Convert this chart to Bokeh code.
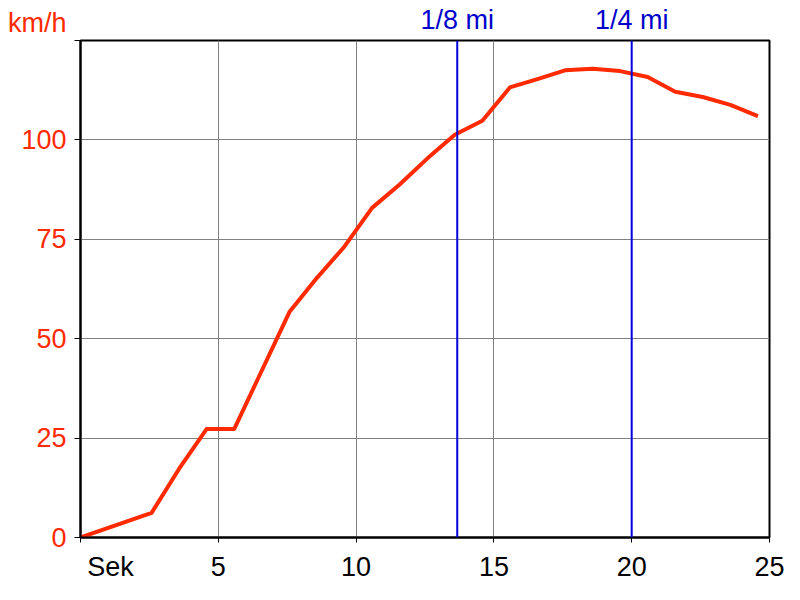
from bokeh.plotting import figure
from bokeh.models import Range1d, FixedTicker, Span, LinearAxis
from bokeh.embed import file_html
from bokeh.resources import INLINE

# Data
seconds = [0, 2.58, 3.58, 4.58, 5.58, 6.58, 7.58, 8.58, 9.58, 10.58, 11.58, 12.58,
           13.58, 14.58, 15.58, 16.58, 17.58, 18.58, 19.58, 20.58, 21.58, 22.58, 23.58, 24.58]
speed_kmh = [0, 6.2, 17.3, 27.3, 27.3, 42.0, 56.7, 65.3, 73.2, 82.9, 88.8, 95.3,
             101.3, 104.8, 113.2, 115.3, 117.5, 117.9, 117.3, 115.8, 112.1, 110.8, 108.8, 106.0]
mile_marks = [13.67, 20.0]
mile_labels = ["1/8 mi", "1/4 mi"]
x_ticks = [0, 5, 10, 15, 20, 25]
y_ticks = [0, 25, 50, 75, 100, 125]
x_unit = "Sek"
y_unit = "km/h"

FONT = "Liberation Sans"
FS = "27px"
RED = "#FF2A00"
BLUE = "#0000CC"
NBSP = "\u00a0"

p = figure(width=784, height=584, x_range=Range1d(0, 25), y_range=Range1d(0, 125),
           output_backend="svg", toolbar_location=None,
           min_border_left=80, min_border_right=15, min_border_top=40, min_border_bottom=44)

p.background_fill_color = "white"
p.border_fill_color = "white"
p.outline_line_color = "black"
p.outline_line_width = 2

# Axes
p.xaxis.ticker = FixedTicker(ticks=x_ticks)
p.xaxis.major_label_overrides = {0: NBSP * 8 + x_unit}
p.yaxis.ticker = FixedTicker(ticks=y_ticks)
p.yaxis.major_label_overrides = {125: y_unit + "\n" + NBSP}
for ax in (p.xaxis, p.yaxis):
    ax.axis_line_color = "black"
    ax.axis_line_width = 2
    ax.major_tick_line_color = "black"
    ax.major_tick_line_width = 1
    ax.major_tick_in = 0
    ax.minor_tick_line_color = None
    ax.major_label_text_font = FONT
    ax.major_label_text_font_size = FS
p.xaxis.major_tick_out = 5
p.yaxis.major_tick_out = 6
p.xaxis.major_label_standoff = 9
p.yaxis.major_label_standoff = 8
p.xaxis.major_label_text_color = "black"
p.yaxis.major_label_text_color = RED

# Mile labels as an axis above the frame
top_axis = LinearAxis(ticker=FixedTicker(ticks=mile_marks),
                      major_label_overrides={m: l for m, l in zip(mile_marks, mile_labels)},
                      axis_line_color=None, major_tick_line_color=None,
                      minor_tick_line_color=None, major_tick_out=0, major_tick_in=0,
                      major_label_standoff=6, major_label_text_color=BLUE,
                      major_label_text_font=FONT, major_label_text_font_size=FS)
p.add_layout(top_axis, "above")

# Grid
p.xgrid.ticker = FixedTicker(ticks=x_ticks[1:-1])
p.ygrid.ticker = FixedTicker(ticks=y_ticks[1:-1])
for g in (p.xgrid, p.ygrid):
    g.grid_line_color = "#808080"
    g.grid_line_width = 1

# Speed curve
p.line(seconds, speed_kmh, line_color=RED, line_width=4, line_join="round")

# Mile markers
for xm in mile_marks:
    p.add_layout(Span(location=xm, dimension="height", line_color="#0000DD", line_width=2))

open("out.html", "w").write(file_html(p, INLINE))
